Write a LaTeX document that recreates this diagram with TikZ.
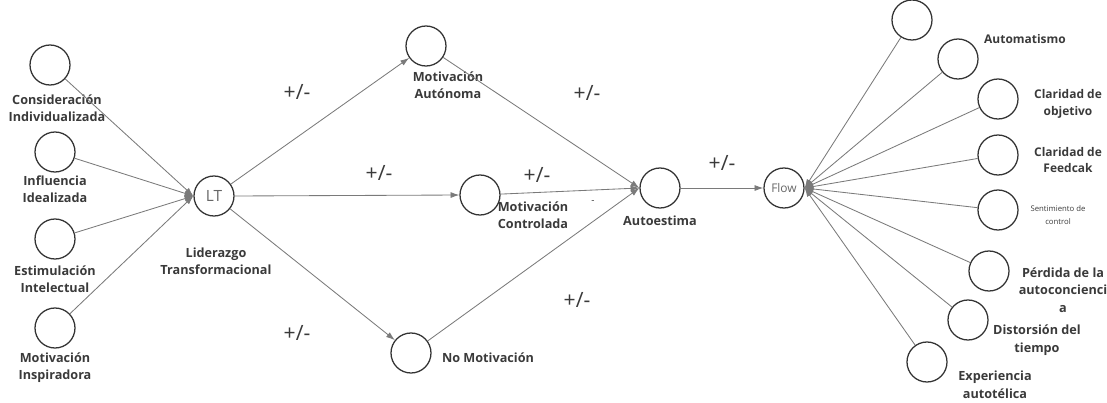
\documentclass[tikz,border=0pt]{standalone}
\usepackage{fontspec}
\setmainfont{Open Sans}
\usetikzlibrary{arrows.meta}
\definecolor{linegray}{HTML}{7A7A7A}
\definecolor{ringgray}{HTML}{333333}
\definecolor{textgray}{HTML}{3A3A3A}
\begin{document}
\begin{tikzpicture}[x=0.025cm,y=-0.025cm,
    circ/.style={circle,draw=ringgray,line width=0.9pt,minimum size=1cm,inner sep=0pt,
                 font=\fontsize{8.5}{10}\selectfont,text=black!60},
    lab/.style={align=center,text=textgray,font=\fontsize{9}{12}\selectfont\bfseries},
    sign/.style={text=textgray,font=\fontsize{15}{17}\selectfont},
    link/.style={draw=linegray,line width=0.6pt},
    arr/.style={link,-{Latex[length=2.2mm,width=1.5mm]}}]
\useasboundingbox (0,0) rectangle (1107,402);
% left block
\foreach \n/\x/\y in {c1/50/65,c2/55/152,c3/55/239,c4/55/328}
    \node[circ] (\n) at (\x,\y) {};
\node[lab] (lc1) at (57,108) {Consideración\\Individualizada};
\node[lab] (lc2) at (55,189) {Influencia\\Idealizada};
\node[lab] (lc3) at (55,279) {Estimulación\\Intelectual};
\node[lab] (lc4) at (55,368) {Motivación\\Inspiradora};
\node[circ,font=\fontsize{11}{12}\selectfont] (lt) at (214,196) {LT};
\node[lab] (llt) at (216,261) {Liderazgo\\Transformacional};
\foreach \n in {c1,c2,c3,c4}
    \draw[arr] (\n) -- (lt.west);
% middle block
\node[circ] (ma) at (426,46) {};
\node[circ] (mc) at (480,195) {};
\node[circ] (nm) at (411,353) {};
\node[circ] (au) at (660,188) {};
\node[lab] (lma) at (448,85) {Motivación\\Autónoma};
\node[lab] (lmc) at (533,215) {Motivación\\Controlada};
\node[lab] (lnm) at (488,358) {No Motivación};
\node[lab] (lau) at (660,221) {Autoestima};
\draw[arr] (lt) -- (ma);
\draw[arr] (lt.east) -- (mc.west);
\draw[arr] (lt) -- (nm);
\foreach \n in {ma,mc,nm}
    \draw[arr] (\n) -- (au.west);
\node[sign] (s1) at (297,92) {+/-};
\node[sign] (s2) at (379,173) {+/-};
\node[sign] (s3) at (537,175) {+/-};
\node[sign] (s4) at (587,93) {+/-};
\node[sign] (s5) at (577,300) {+/-};
\node[sign] (s6) at (297,333) {+/-};
\node[text=textgray,font=\fontsize{7}{8}\selectfont] (s7) at (593,202) {-};
% flow block
\node[circ] (fl) at (784,188) {Flow};
\node[sign] (s8) at (722,163) {+/-};
\draw[arr] (au.east) -- (fl.west);
\foreach \n/\x/\y in {r1/912/20,r2/958/59,r3/998/99,r4/998/155,r5/998/210,r6/989/271,r7/968/320,r8/927/362}
    \node[circ] (\n) at (\x,\y) {};
\foreach \n in {r1,r2,r3,r4,r5,r6,r7,r8}
    \draw[arr] (\n) -- (fl.east);
\node[lab,font=\fontsize{8.5}{12}\selectfont\bfseries] (lr2) at (1025,39) {Automatismo};
\node[lab,font=\fontsize{8.5}{12}\selectfont\bfseries] (lr3) at (1068,104) {Claridad de\\objetivo};
\node[lab,font=\fontsize{8.5}{12}\selectfont\bfseries] (lr4) at (1068,160) {Claridad de\\Feedcak};
\node[align=center,text=textgray,font=\fontsize{5.5}{9}\selectfont] (lr5) at (1058,215) {Sentimiento de\\control};
\node[lab,font=\fontsize{9}{12.5}\selectfont\bfseries] (lr6) at (1063,290) {Pérdida de la\\autoconcienci\\a};
\node[lab,font=\fontsize{9}{12.5}\selectfont\bfseries] (lr7) at (1037,340) {Distorsión del\\tiempo};
\node[lab,font=\fontsize{9}{12.5}\selectfont\bfseries] (lr8) at (995,385) {Experiencia\\autotélica};
\end{tikzpicture}
\end{document}
